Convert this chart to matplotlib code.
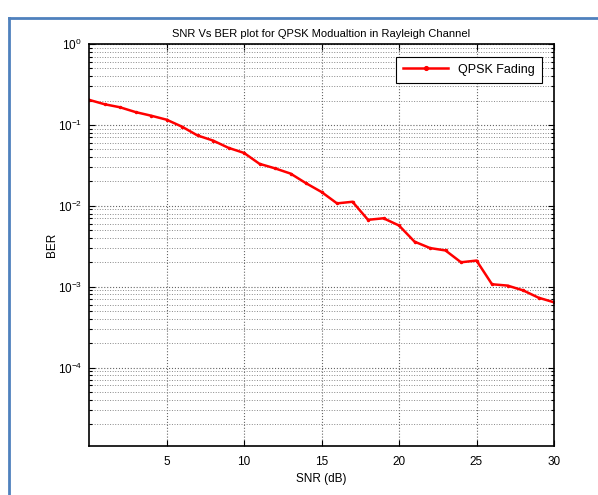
import matplotlib.pyplot as plt
from matplotlib.lines import Line2D
from matplotlib.ticker import LogLocator, FixedLocator, NullFormatter

plt.rcParams['font.family'] = ['Liberation Sans', 'DejaVu Sans']

# SNR (dB) and simulated BER
snr_db = list(range(0, 31))
ber = [0.204, 0.180, 0.165, 0.144, 0.130, 0.116, 0.095, 0.074, 0.064, 0.052,
       0.045, 0.033, 0.029, 0.025, 0.019, 0.0148, 0.0107, 0.0112, 0.0067, 0.0070,
       0.0057, 0.0036, 0.0030, 0.0028, 0.0020, 0.0021, 0.00107, 0.00103, 0.00090,
       0.00073, 0.00064]

x_ticks = [5, 10, 15, 20, 25, 30]
y_ticks = [1e-4, 1e-3, 1e-2, 1e-1, 1e0]

fig = plt.figure(figsize=(5.98, 4.95), dpi=100)
ax = fig.add_axes([89 / 598, 1 - 446 / 495, 465 / 598, 402 / 495])

ax.semilogy(snr_db, ber, 'r.-', linewidth=1.8, markersize=3, label='QPSK Fading')

ax.set_xlim(0, 30)
ax.set_ylim(1.07e-5, 1)
ax.xaxis.set_major_locator(FixedLocator(x_ticks))
ax.yaxis.set_major_locator(FixedLocator(y_ticks))
ax.yaxis.set_minor_locator(LogLocator(base=10, subs=range(2, 10), numticks=20))
ax.yaxis.set_minor_formatter(NullFormatter())

ax.grid(True, which='major', axis='both', linestyle=':', color='#666666', linewidth=0.8)
ax.grid(True, which='minor', axis='y', linestyle=':', color='#888888', linewidth=0.7)

ax.tick_params(which='both', direction='in', top=True, right=True, labelsize=8.5, width=0.8)
ax.tick_params(which='major', length=4)
ax.tick_params(which='minor', length=2)
ax.tick_params(axis='x', pad=7)
ax.tick_params(axis='y', pad=5)
for s in ax.spines.values():
    s.set_linewidth(1.2)

ax.set_title('SNR Vs BER plot for QPSK Modualtion in Rayleigh Channel', fontsize=8, pad=5)
ax.set_xlabel('SNR (dB)', fontsize=8.5, labelpad=4)
ax.set_ylabel('BER', fontsize=8.5, labelpad=0)

leg = ax.legend(loc='upper right', bbox_to_anchor=(0.974, 0.968), fontsize=9,
                fancybox=False, framealpha=1, edgecolor='black', handlelength=3.6,
                borderaxespad=0, borderpad=0.55, markerscale=1.8)
leg.get_frame().set_linewidth(0.8)

# blue border of the screenshot
fig.add_artist(Line2D([9 / 598, 9 / 598], [0, 1 - 18 / 495], color='#4F81BD', linewidth=2))
fig.add_artist(Line2D([9 / 598, 1], [1 - 18 / 495, 1 - 18 / 495], color='#4F81BD', linewidth=2))

fig.savefig('out.png', dpi=100)
